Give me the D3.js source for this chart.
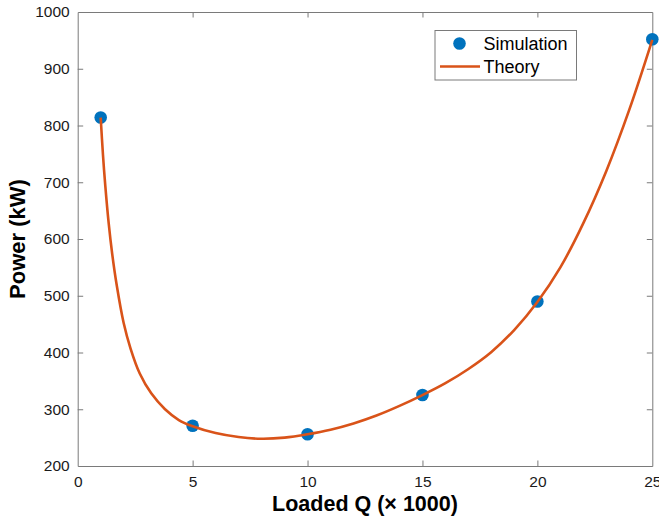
<!DOCTYPE html>
<html>
<head>
<meta charset="utf-8">
<script src="https://cdn.jsdelivr.net/npm/d3@7/dist/d3.min.js"></script>
<style>
  html, body { margin: 0; padding: 0; background: #fff; }
  svg { display: block; font-family: "Liberation Sans", Arial, Helvetica, sans-serif; }
</style>
</head>
<body>
<svg id="chart" width="659" height="519"></svg>
<script>
// Simulated operating points
const simQ = [1, 5, 10, 15, 20, 25];
const simP = [814, 271, 256, 325, 490, 952];

// Theoretical power curve, sampled along Q
const theoryQ = [1.0, 1.1, 1.2, 1.35, 1.5, 1.7, 2.0, 2.3, 2.7, 3.2, 3.8, 4.4, 5.0, 6.0, 7.0, 8.0, 9.0, 10.0,
                 11.0, 12.0, 13.0, 14.0, 15.0, 16.0, 17.0, 18.0, 19.0, 20.0, 21.0, 22.0, 23.0, 24.0, 25.0];
const theoryP = [814, 748, 694, 627, 574, 518, 452, 407, 363, 328, 300, 281, 270, 258, 251, 248, 250, 256,
                 264, 275, 289, 306, 325, 346, 371, 401, 440, 489, 550, 628, 720, 828, 951];

const xTicks = [0, 5, 10, 15, 20, 25];
const yTicks = [200, 300, 400, 500, 600, 700, 800, 900, 1000];

const seriesNames = ["Simulation", "Theory"];

const blue = "#0072BD";
const orange = "#D95319";
const axisColor = "#7a7a7a";

const svg = d3.select("#chart");
const m = { left: 77.7, right: 652.3, top: 12, bottom: 466 };

const x = d3.scaleLinear().domain([0, 25]).range([m.left, m.right]);
const y = d3.scaleLinear().domain([200, 1000]).range([m.bottom, m.top]);

const tickLen = 5.5;
const fmt = d3.format("d");

// Box-style axes with inward ticks on all four sides
const gBottom = svg.append("g").attr("transform", `translate(0,${m.bottom})`)
  .call(d3.axisBottom(x).tickValues(xTicks).tickFormat(fmt).tickSizeInner(-tickLen).tickSizeOuter(0).tickPadding(10));
const gTop = svg.append("g").attr("transform", `translate(0,${m.top})`)
  .call(d3.axisTop(x).tickValues(xTicks).tickSizeInner(-tickLen).tickSizeOuter(0).tickFormat(""));
const gLeft = svg.append("g").attr("transform", `translate(${m.left},0)`)
  .call(d3.axisLeft(y).tickValues(yTicks).tickFormat(fmt).tickSizeInner(-tickLen).tickSizeOuter(0).tickPadding(8));
const gRight = svg.append("g").attr("transform", `translate(${m.right},0)`)
  .call(d3.axisRight(y).tickValues(yTicks).tickSizeInner(-tickLen).tickSizeOuter(0).tickFormat(""));

[gBottom, gTop, gLeft, gRight].forEach(g => {
  g.select(".domain").attr("stroke", axisColor).attr("stroke-width", 1);
  g.selectAll(".tick line").attr("stroke", axisColor).attr("stroke-width", 1);
  g.selectAll(".tick text").attr("fill", "#1a1a1a").style("font-size", "15.5px")
    .style("font-family", "'Liberation Sans', Arial, Helvetica, sans-serif");
});
// drop end ticks that would overlap the box corners
gBottom.selectAll(".tick line").filter(d => d === 0 || d === 25).remove();
gTop.selectAll(".tick line").filter(d => d === 0 || d === 25).remove();
gLeft.selectAll(".tick line").filter(d => d === 200 || d === 1000).remove();
gRight.selectAll(".tick line").filter(d => d === 200 || d === 1000).remove();

// Theory curve
const line = d3.line()
  .x((d, i) => x(theoryQ[i]))
  .y((d, i) => y(theoryP[i]))
  .curve(d3.curveCatmullRom.alpha(0.5));

// Simulation markers
svg.append("g").selectAll("circle")
  .data(simQ)
  .join("circle")
  .attr("cx", (d, i) => x(simQ[i]))
  .attr("cy", (d, i) => y(simP[i]))
  .attr("r", 6.3)
  .attr("fill", blue);

// Theory line drawn over the markers
svg.append("path")
  .datum(theoryQ)
  .attr("d", line)
  .attr("fill", "none")
  .attr("stroke", orange)
  .attr("stroke-width", 2.6)
  .attr("stroke-linejoin", "round");

// Axis titles
svg.append("text")
  .attr("x", (m.left + m.right) / 2)
  .attr("y", 511)
  .attr("text-anchor", "middle")
  .style("font-size", "21.5px")
  .style("font-weight", "bold")
  .attr("fill", "#000")
  .text("Loaded Q (× 1000)");

svg.append("text")
  .attr("transform", `translate(25,${(m.top + m.bottom) / 2}) rotate(-90)`)
  .attr("text-anchor", "middle")
  .style("font-size", "22px")
  .style("font-weight", "bold")
  .attr("fill", "#000")
  .text("Power (kW)");

// Legend
const lg = svg.append("g");
lg.append("rect")
  .attr("x", 435).attr("y", 30.5)
  .attr("width", 141.5).attr("height", 49.5)
  .attr("fill", "#fff")
  .attr("stroke", axisColor).attr("stroke-width", 1);
lg.append("circle").attr("cx", 459.5).attr("cy", 43.5).attr("r", 6.3).attr("fill", blue);
lg.append("line").attr("x1", 440).attr("x2", 480).attr("y1", 66.5).attr("y2", 66.5)
  .attr("stroke", orange).attr("stroke-width", 2.6);
lg.selectAll("text.lbl")
  .data(seriesNames)
  .join("text")
  .attr("class", "lbl")
  .attr("x", 483.5)
  .attr("y", (d, i) => 50 + i * 23.2)
  .style("font-size", "18px")
  .attr("fill", "#000")
  .text(d => d);
</script>
</body>
</html>
